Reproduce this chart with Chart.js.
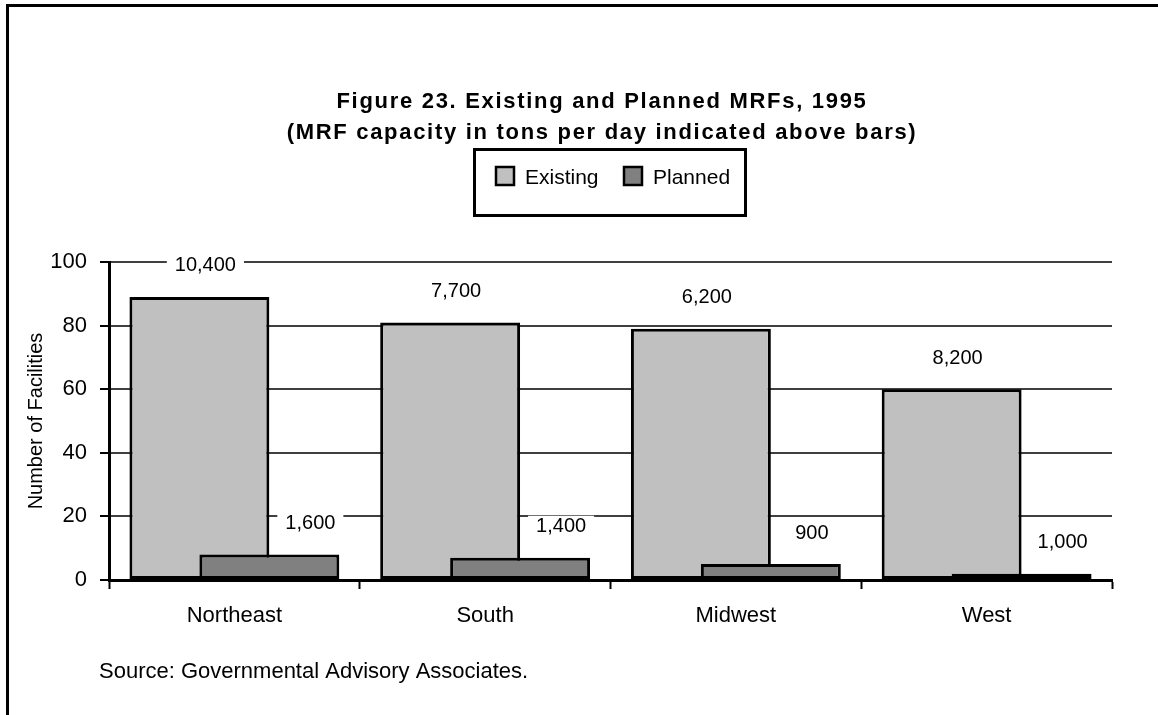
<!DOCTYPE html>
<html>
<head>
<meta charset="utf-8">
<script src="https://cdn.jsdelivr.net/npm/chart.js@4"></script>
<style>
  html, body { margin: 0; padding: 0; background: #fff; }
</style>
</head>
<body>
<canvas id="chart" width="1158" height="715"></canvas>
<script>
// data
const regions = ['Northeast', 'South', 'Midwest', 'West'];
const existing = [89, 81, 79, 60];
const planned = [8, 7, 5, 2];
const existingTons = ['10,400', '7,700', '6,200', '8,200'];
const plannedTons = ['1,600', '1,400', '900', '1,000'];
const yTicks = [0, 20, 40, 60, 80, 100];

const FONT = '"Liberation Sans", Arial, sans-serif';

// the old figure draws Planned on top of Existing, so hold it back and draw it last
const overlapPlugin = {
  id: 'overlap',
  beforeDatasetDraw(chart, args) {
    if (args.index === 1) return false;
  },
  afterDatasetsDraw(chart) {
    chart.getDatasetMeta(1).controller.draw();

    // capacity labels, each on a white patch that hides the gridline
    const ctx = chart.ctx;
    const sets = [
      { meta: chart.getDatasetMeta(0), text: existingTons, shift: 6 },
      { meta: chart.getDatasetMeta(1), text: plannedTons, shift: 41 }
    ];
    ctx.save();
    ctx.font = '20px ' + FONT;
    ctx.textAlign = 'center';
    ctx.textBaseline = 'middle';
    sets.forEach(s => {
      s.meta.data.forEach((bar, i) => {
        const x = bar.x + s.shift;
        const y = bar.y - 31;
        const w = ctx.measureText(s.text[i]).width + 16;
        ctx.fillStyle = '#fff';
        ctx.fillRect(x - w / 2, y - 11, w, 22);
        ctx.fillStyle = '#000';
        ctx.fillText(s.text[i], x, y);
      });
    });
    ctx.restore();
  }
};

const decorPlugin = {
  id: 'decor',
  afterDraw(chart) {
    const ctx = chart.ctx;
    ctx.save();

    // frame (only left and top edges are inside the picture)
    ctx.strokeStyle = '#000';
    ctx.lineWidth = 3;
    ctx.beginPath();
    ctx.moveTo(7.5, 715);
    ctx.lineTo(7.5, 5.5);
    ctx.lineTo(1158, 5.5);
    ctx.stroke();

    // title
    ctx.fillStyle = '#000';
    ctx.textAlign = 'center';
    ctx.textBaseline = 'middle';
    ctx.font = 'bold 22px ' + FONT;
    ctx.letterSpacing = '1.7px';
    ctx.fillText('Figure 23. Existing and Planned MRFs, 1995', 602, 102);
    ctx.fillText('(MRF capacity in tons per day indicated above bars)', 602, 133);
    ctx.letterSpacing = '0px';

    // legend box
    ctx.lineWidth = 3;
    ctx.strokeRect(474.5, 149.5, 271, 66);
    const items = chart.data.datasets;
    const lx = [496, 624];
    ctx.font = '21px ' + FONT;
    ctx.textAlign = 'left';
    items.forEach((ds, i) => {
      ctx.fillStyle = ds.backgroundColor;
      ctx.fillRect(lx[i], 167, 18, 18);
      ctx.lineWidth = 2.5;
      ctx.strokeRect(lx[i], 167, 18, 18);
      ctx.fillStyle = '#000';
      ctx.fillText(ds.label, lx[i] + 29, 178);
    });

    // source note
    ctx.font = '22px ' + FONT;
    ctx.fillText('Source: Governmental Advisory Associates.', 99, 672);
    ctx.restore();
  }
};

new Chart(document.getElementById('chart'), {
  type: 'bar',
  data: {
    labels: regions,
    datasets: [
      {
        label: 'Existing',
        data: existing,
        backgroundColor: '#c0c0c0',
        borderColor: '#000',
        borderWidth: 3,
        borderSkipped: false,
        categoryPercentage: 0.558,
        barPercentage: 2
      },
      {
        label: 'Planned',
        data: planned,
        backgroundColor: '#808080',
        borderColor: '#000',
        borderWidth: 3,
        borderSkipped: false,
        categoryPercentage: 0.558,
        barPercentage: 2
      }
    ]
  },
  options: {
    responsive: false,
    animation: false,
    events: [],
    layout: { padding: { top: 262, right: 46, left: 0, bottom: 0 } },
    plugins: {
      legend: { display: false },
      tooltip: { enabled: false }
    },
    scales: {
      x: {
        grid: { offset: true, drawOnChartArea: false, drawTicks: true, tickLength: 9, tickColor: '#000', tickWidth: 2 },
        border: { color: '#000', width: 3 },
        ticks: { color: '#000', font: { family: FONT, size: 22 }, padding: 14, maxRotation: 0 },
        afterFit: s => { s.height = 135; }
      },
      y: {
        min: 0,
        max: 100,
        afterBuildTicks: s => { s.ticks = yTicks.map(v => ({ value: v })); },
        ticks: { color: '#000', font: { family: FONT, size: 22 }, padding: 13 },
        grid: { color: '#404040', lineWidth: 2, tickLength: 9, tickColor: '#000', tickWidth: 2 },
        border: { color: '#000', width: 3 },
        title: {
          display: true,
          text: 'Number of Facilities',
          color: '#000',
          font: { family: FONT, size: 20 },
          padding: { top: 24, bottom: 0 }
        },
        afterFit: s => { s.width = 109; }
      }
    }
  },
  plugins: [overlapPlugin, decorPlugin]
});
</script>
</body>
</html>
